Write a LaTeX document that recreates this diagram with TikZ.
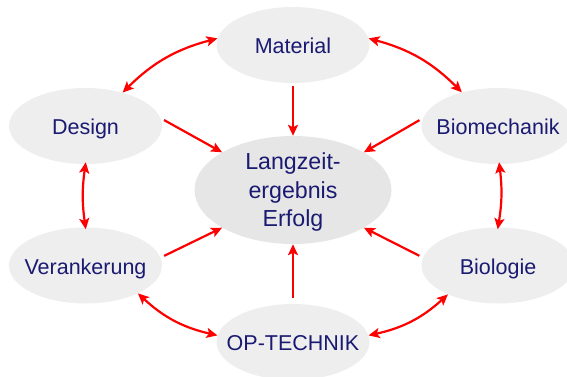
\documentclass[tikz,border=0pt]{standalone}
\usepackage{fontspec}
\setmainfont{Liberation Sans}
\usetikzlibrary{arrows.meta,shapes.geometric}
\definecolor{bubble}{HTML}{EEEEEE}
\definecolor{hub}{HTML}{E6E6E6}
\definecolor{ink}{HTML}{1A1A72}
\definecolor{link}{HTML}{FF0000}
\newcommand{\zerow}[1]{\makebox[0pt]{#1}}
\begin{document}
\begin{tikzpicture}[x=1pt,y=1pt,
  factor/.style={ellipse, fill=bubble, minimum width=153pt, minimum height=76pt,
    inner sep=0pt, text=ink, text height=17pt, text depth=0pt,
    font=\fontsize{21.5}{26}\selectfont},
  hubnode/.style={ellipse, fill=hub, minimum width=197pt, minimum height=108pt,
    inner sep=0pt},
  hubtext/.style={text=ink, align=center, inner sep=0pt,
    font=\fontsize{23.2}{28.7}\selectfont},
  flow/.style={draw=link, line width=2.2pt, -{Stealth[length=11pt,width=10pt,inset=2.5pt]}},
  mutual/.style={draw=link, line width=2.2pt,
    {Stealth[length=11pt,width=10pt,inset=2.5pt]}-{Stealth[length=11pt,width=10pt,inset=2.5pt]}}
]
\useasboundingbox (0,0) rectangle (567,376);
\clip (0,0) rectangle (567,376);

% factors around the outcome
\node[factor] (material) at (293,331) {\zerow{Material}};
\node[factor] (design)   at (85.5,250) {\zerow{Design}};
\node[factor] (biomech)  at (498,250) {\zerow{Biomechanik}};
\node[factor] (anchor)   at (85.5,110.5) {\zerow{Verankerung}};
\node[factor] (biology)  at (498,110.5) {\zerow{Biologie}};
\node[factor] (surgery)  at (293,34)  {\zerow{OP-TECHNIK}};
\node[hubnode] (result)  at (293,186) {};
% the base anchor of a multi-line node sits on its last line
\node[hubtext, anchor=base] (resulttext) at (293,149.3) {Langzeit-\\ergebnis\\Erfolg};

% influences on the outcome
\draw[flow, shorten <=3pt] (material.south) -- (result.north);
\draw[flow, shorten <=4pt] (design.6) -- (result.152);
\draw[flow, shorten <=4pt] (biomech.174) -- (result.28);
\draw[flow, shorten <=4pt] (anchor.6) -- (result.208);
\draw[flow, shorten <=4pt] (biology.174) -- (result.-28);
\draw[flow, shorten <=6pt] (surgery.north) -- (result.south);

% mutual dependencies between neighbouring factors
\draw[mutual] (design.42) to[bend left=15] (material.175);
\draw[mutual] (material.5) to[bend left=15] (biomech.137);
\draw[mutual, shorten <=-2pt, shorten >=-2pt] (design.-90) to[bend right=8] (anchor.90);
\draw[mutual, shorten <=-2pt, shorten >=-2pt] (biomech.-88) to[bend left=8] (biology.90);
\draw[mutual] (anchor.-28) to[bend right=15] (surgery.175);
\draw[mutual] (surgery.5) to[bend right=15] (biology.210);
\end{tikzpicture}
\end{document}
